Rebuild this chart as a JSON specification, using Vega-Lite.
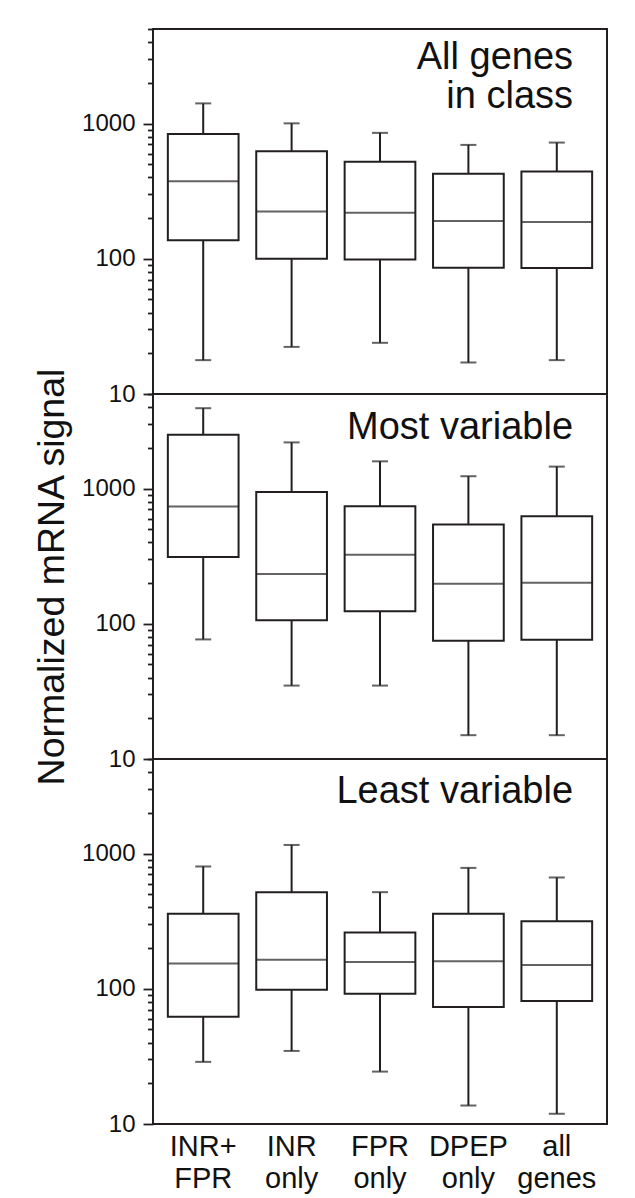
{
  "$schema": "https://vega.github.io/schema/vega-lite/v6.json",
  "padding": {"left": 32, "top": 16, "right": 5, "bottom": 0},
  "bounds": "flush",
  "spacing": 0,
  "background": "white",
  "datasets": {
    "b": [
      {"panel": "all", "cls": "INR+ FPR", "lo": 17.8, "q1": 137, "med": 375, "q3": 838, "hi": 1409},
      {"panel": "all", "cls": "INR only", "lo": 22.3, "q1": 100, "med": 224, "q3": 624, "hi": 1003},
      {"panel": "all", "cls": "FPR only", "lo": 23.9, "q1": 98.8, "med": 219, "q3": 521, "hi": 853},
      {"panel": "all", "cls": "DPEP only", "lo": 17.1, "q1": 85.7, "med": 190, "q3": 425, "hi": 695},
      {"panel": "all", "cls": "all genes", "lo": 17.8, "q1": 85.3, "med": 187, "q3": 442, "hi": 723},
      {"panel": "most", "cls": "INR+ FPR", "lo": 76.6, "q1": 312, "med": 737, "q3": 2500, "hi": 3926},
      {"panel": "most", "cls": "INR only", "lo": 34.9, "q1": 106, "med": 233, "q3": 944, "hi": 2193},
      {"panel": "most", "cls": "FPR only", "lo": 34.9, "q1": 124, "med": 324, "q3": 741, "hi": 1589},
      {"panel": "most", "cls": "DPEP only", "lo": 15, "q1": 75, "med": 198, "q3": 543, "hi": 1233},
      {"panel": "most", "cls": "all genes", "lo": 15, "q1": 76.2, "med": 201, "q3": 625, "hi": 1452},
      {"panel": "least", "cls": "INR+ FPR", "lo": 28.8, "q1": 62.2, "med": 154, "q3": 358, "hi": 802},
      {"panel": "least", "cls": "INR only", "lo": 34.7, "q1": 98.5, "med": 164, "q3": 518, "hi": 1157},
      {"panel": "least", "cls": "FPR only", "lo": 24.4, "q1": 92, "med": 158, "q3": 261, "hi": 518},
      {"panel": "least", "cls": "DPEP only", "lo": 13.7, "q1": 73.4, "med": 160, "q3": 358, "hi": 783},
      {"panel": "least", "cls": "all genes", "lo": 11.9, "q1": 81.3, "med": 150, "q3": 316, "hi": 665}
    ]
  },
  "config": {
    "font": "Liberation Sans",
    "view": {"stroke": "#231f20", "strokeWidth": 2},
    "text": {"font": "Liberation Sans", "fontSize": 38, "align": "right", "baseline": "alphabetic", "lineHeight": 38.7, "color": "#111"},
    "rule": {"color": "#231f20", "strokeWidth": 2},
    "bar": {"fill": "white", "stroke": "#231f20", "strokeWidth": 2},
    "tick": {"color": "#231f20", "thickness": 2},
    "axisY": {
      "values": [10, 20, 30, 40, 50, 60, 70, 80, 90, 100, 200, 300, 400, 500, 600, 700, 800, 900, 1000, 2000, 3000, 4000],
      "labelExpr": "(datum.value == 10 || datum.value == 100 || datum.value == 1000) ? ('' + datum.value) : ''",
      "tickSize": {"condition": {"test": "datum.value == 10 || datum.value == 100 || datum.value == 1000", "value": 10}, "value": 5.5},
      "tickColor": "#231f20",
      "tickWidth": 1.8,
      "grid": false,
      "domain": false,
      "labelOverlap": false,
      "labelBound": false,
      "labelFlush": false,
      "labelFontSize": 24,
      "labelFont": "Liberation Sans",
      "labelColor": "#111",
      "labelPadding": 8,
      "titleFontSize": 37.5,
      "titleFontWeight": "normal",
      "titleFont": "Liberation Sans",
      "titleColor": "#111",
      "titlePadding": 10
    }
  },
  "vconcat": [
    {
      "width": 454, "height": 365,
      "encoding": {"x": {"field": "cls", "type": "nominal", "sort": null, "scale": {"paddingInner": 0.2, "paddingOuter": 0.168}, "axis": null}},
      "layer": [
        {"data": {"name": "b"}, "transform": [{"filter": "datum.panel === 'all'"}],
         "mark": {"type": "rule"},
         "encoding": {"y": {"field": "lo", "type": "quantitative", "title": null, "scale": {"type": "log", "domain": [10, 5000], "nice": false}, "axis": {"title": null}}, "y2": {"field": "hi"}}},
        {"data": {"name": "b"}, "transform": [{"filter": "datum.panel === 'all'"}],
         "mark": {"type": "bar"},
         "encoding": {"y": {"field": "q1", "type": "quantitative", "title": null}, "y2": {"field": "q3"}}},
        {"data": {"name": "b"}, "transform": [{"filter": "datum.panel === 'all'"}],
         "mark": {"type": "tick", "size": 70.7},
         "encoding": {"y": {"field": "med", "type": "quantitative", "title": null}}},
        {"data": {"name": "b"}, "transform": [{"filter": "datum.panel === 'all'"}],
         "mark": {"type": "tick", "size": 16},
         "encoding": {"y": {"field": "lo", "type": "quantitative", "title": null}}},
        {"data": {"name": "b"}, "transform": [{"filter": "datum.panel === 'all'"}],
         "mark": {"type": "tick", "size": 16},
         "encoding": {"y": {"field": "hi", "type": "quantitative", "title": null}}},
        {"data": {"values": [{"t": "All genes"}]},
         "mark": {"type": "text"},
         "encoding": {"text": {"value": ["All genes", "in class"]}, "x": {"datum": "all genes", "bandPosition": 0.73}, "y": {"datum": 2524}}}
      ]
    },
    {
      "width": 454, "height": 365,
      "encoding": {"x": {"field": "cls", "type": "nominal", "sort": null, "scale": {"paddingInner": 0.2, "paddingOuter": 0.168}, "axis": null}},
      "layer": [
        {"data": {"name": "b"}, "transform": [{"filter": "datum.panel === 'most'"}],
         "mark": {"type": "rule"},
         "encoding": {"y": {"field": "lo", "type": "quantitative", "title": "Normalized mRNA signal", "scale": {"type": "log", "domain": [10, 5000], "nice": false}, "axis": {"title": "Normalized mRNA signal"}}, "y2": {"field": "hi"}}},
        {"data": {"name": "b"}, "transform": [{"filter": "datum.panel === 'most'"}],
         "mark": {"type": "bar"},
         "encoding": {"y": {"field": "q1", "type": "quantitative", "title": "Normalized mRNA signal"}, "y2": {"field": "q3"}}},
        {"data": {"name": "b"}, "transform": [{"filter": "datum.panel === 'most'"}],
         "mark": {"type": "tick", "size": 70.7},
         "encoding": {"y": {"field": "med", "type": "quantitative", "title": "Normalized mRNA signal"}}},
        {"data": {"name": "b"}, "transform": [{"filter": "datum.panel === 'most'"}],
         "mark": {"type": "tick", "size": 16},
         "encoding": {"y": {"field": "lo", "type": "quantitative", "title": "Normalized mRNA signal"}}},
        {"data": {"name": "b"}, "transform": [{"filter": "datum.panel === 'most'"}],
         "mark": {"type": "tick", "size": 16},
         "encoding": {"y": {"field": "hi", "type": "quantitative", "title": "Normalized mRNA signal"}}},
        {"data": {"values": [{"t": "Most variable"}]},
         "mark": {"type": "text"},
         "encoding": {"text": {"value": "Most variable"}, "x": {"datum": "all genes", "bandPosition": 0.73}, "y": {"datum": 2318}}}
      ]
    },
    {
      "width": 454, "height": 365,
      "encoding": {"x": {"field": "cls", "type": "nominal", "sort": null, "scale": {"paddingInner": 0.2, "paddingOuter": 0.168},
        "axis": {"title": null, "labelExpr": "split(datum.label, ' ')", "labelAngle": 0, "ticks": false, "domain": false, "labelFontSize": 29, "labelLineHeight": 32, "labelPadding": 8, "labelColor": "#111", "labelFont": "Liberation Sans"}}},
      "layer": [
        {"data": {"name": "b"}, "transform": [{"filter": "datum.panel === 'least'"}],
         "mark": {"type": "rule"},
         "encoding": {"y": {"field": "lo", "type": "quantitative", "title": null, "scale": {"type": "log", "domain": [10, 5000], "nice": false}, "axis": {"title": null}}, "y2": {"field": "hi"}}},
        {"data": {"name": "b"}, "transform": [{"filter": "datum.panel === 'least'"}],
         "mark": {"type": "bar"},
         "encoding": {"y": {"field": "q1", "type": "quantitative", "title": null}, "y2": {"field": "q3"}}},
        {"data": {"name": "b"}, "transform": [{"filter": "datum.panel === 'least'"}],
         "mark": {"type": "tick", "size": 70.7},
         "encoding": {"y": {"field": "med", "type": "quantitative", "title": null}}},
        {"data": {"name": "b"}, "transform": [{"filter": "datum.panel === 'least'"}],
         "mark": {"type": "tick", "size": 16},
         "encoding": {"y": {"field": "lo", "type": "quantitative", "title": null}}},
        {"data": {"name": "b"}, "transform": [{"filter": "datum.panel === 'least'"}],
         "mark": {"type": "tick", "size": 16},
         "encoding": {"y": {"field": "hi", "type": "quantitative", "title": null}}},
        {"data": {"values": [{"t": "Least variable"}]},
         "mark": {"type": "text"},
         "encoding": {"text": {"value": "Least variable"}, "x": {"datum": "all genes", "bandPosition": 0.73}, "y": {"datum": 2382}}}
      ]
    }
  ]
}
